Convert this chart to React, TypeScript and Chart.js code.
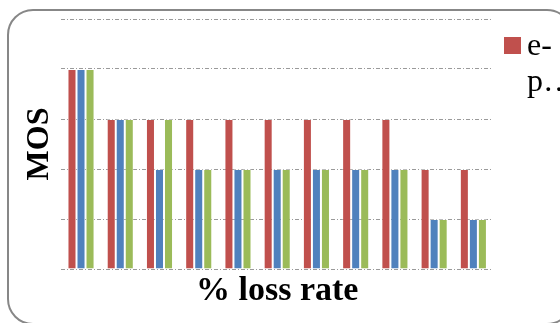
import React, { useEffect, useRef } from "react";
import { Chart, registerables } from "chart.js";

Chart.register(...registerables);

const CATEGORIES = ["0%", "1%", "2%", "3%", "4%", "5%", "6%", "7%", "8%", "9%", "10%"];
const SERIES_NAMES = ["e-p…", "Series 2", "Series 3"];
const SERIES_A = [4, 3, 3, 3, 3, 3, 3, 3, 3, 2, 2];
const SERIES_B = [4, 3, 2, 2, 2, 2, 2, 2, 2, 1, 1];
const SERIES_C = [4, 3, 3, 2, 2, 2, 2, 2, 2, 1, 1];
const LEGEND_LINES = ["e-", "p…"];
const Y_MIN = 0;
const Y_MAX = 5;
const X_TITLE = "% loss rate";
const Y_TITLE = "MOS";

const COLORS = ["#C0504D", "#4F81BD", "#9BBB59"];
const SERIF = "'Liberation Serif', 'Times New Roman', serif";

const legendPlugin = {
  id: "clippedLegend",
  afterDraw(chart: any) {
    const ctx = chart.ctx;
    const ds = chart.data.datasets[0];
    ctx.save();
    ctx.fillStyle = ds.backgroundColor;
    ctx.fillRect(504, 37, 17, 17);
    ctx.fillStyle = "#000";
    ctx.font = `32px ${SERIF}`;
    ctx.textBaseline = "alphabetic";
    ctx.textAlign = "left";
    LEGEND_LINES.forEach((line, i) => {
      ctx.fillText(line, 527, 55 + i * 36);
    });
    ctx.restore();
  },
};

export default function App() {
  const ref = useRef<HTMLCanvasElement | null>(null);
  useEffect(() => {
    if (!ref.current) return;
    const chart = new Chart(ref.current, {
      type: "bar",
      data: {
        labels: CATEGORIES,
        datasets: [SERIES_A, SERIES_B, SERIES_C].map((d, i) => ({
          label: SERIES_NAMES[i],
          data: d,
          backgroundColor: COLORS[i],
          borderColor: "rgba(255,255,255,0.35)",
          borderWidth: 1,
          categoryPercentage: 0.69,
          barPercentage: 1,
        })),
      },
      options: {
        responsive: false,
        animation: false,
        layout: { padding: { left: 21, right: 67, top: 19, bottom: 9.6 } },
        plugins: { legend: { display: false }, tooltip: { enabled: false } },
        scales: {
          x: {
            grid: { display: false, drawTicks: false },
            border: { display: false },
            ticks: { display: false },
            title: {
              display: true,
              text: X_TITLE,
              color: "#000",
              font: { family: SERIF, size: 34, weight: "bold", lineHeight: 1.2 },
              padding: { top: 1.6, bottom: 2 },
            },
          },
          y: {
            min: Y_MIN,
            max: Y_MAX,
            ticks: { display: false, stepSize: 1 },
            grid: { color: "#9a9a9a", lineWidth: 1, drawTicks: false },
            border: { display: false, dash: [4, 2, 1, 2] },
            title: {
              display: true,
              text: Y_TITLE,
              color: "#000",
              font: { family: SERIF, size: 32, weight: "bold", lineHeight: 1.2 },
              padding: { top: 0, bottom: 2 },
            },
          },
        },
      },
      plugins: [legendPlugin],
    });
    return () => chart.destroy();
  }, []);

  return (
    <div
      style={{
        position: "fixed",
        left: 0,
        top: 0,
        width: 560,
        height: 323,
        overflow: "hidden",
        background: "#fff",
      }}
    >
      <div
        style={{
          position: "absolute",
          left: 7,
          top: 9,
          width: 566,
          height: 316,
          border: "2px solid #878787",
          borderRadius: 26,
          boxSizing: "border-box",
        }}
      />
      <canvas
        ref={ref}
        width={560}
        height={323}
        style={{ position: "absolute", left: 0, top: 0, display: "block" }}
      />
    </div>
  );
}
